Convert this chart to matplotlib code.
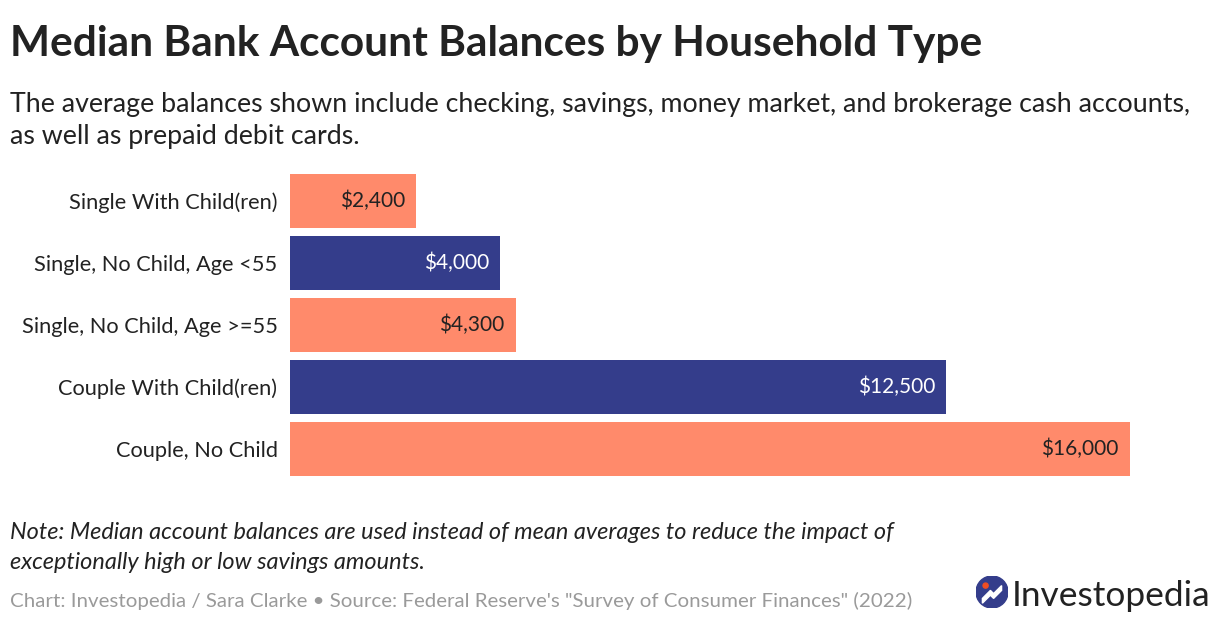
import numpy as np
import matplotlib
matplotlib.use("Agg")
import matplotlib.pyplot as plt
from matplotlib.patches import Circle, Polygon

# data
categories = ["Single With Child(ren)", "Single, No Child, Age <55",
              "Single, No Child, Age >=55", "Couple With Child(ren)",
              "Couple, No Child"]
balances = [2400, 4000, 4300, 12500, 16000]
value_labels = ["$2,400", "$4,000", "$4,300", "$12,500", "$16,000"]

SALMON = "#FF8A6B"
NAVY = "#343D8B"
DARK = "#222222"
GREY = "#9A9A9A"
colors = [SALMON, NAVY, SALMON, NAVY, SALMON]
label_colors = [DARK, "white", DARK, "white", DARK]

plt.rcParams['font.family'] = ['Lato', 'DejaVu Sans']

W, H = 1220, 624
fig = plt.figure(figsize=(W / 100, H / 100), dpi=100)


def px(x, y):
    # pixel coords (top-left origin) -> figure fraction
    return x / W, 1 - y / H


def fit_text(x, y, s, width, size, **kw):
    # place text then shrink/grow it so it spans `width` pixels
    t = fig.text(*px(x, y), s, fontsize=size, **kw)
    r = fig.canvas.get_renderer()
    w = t.get_window_extent(r).width
    t.set_fontsize(size * width / w)
    return t


fit_text(10, 56, "Median Bank Account Balances by Household Type", 970, 28,
         fontweight="bold", color=DARK, va="baseline")
sub = fit_text(10, 112, "The average balances shown include checking, savings, money market, "
               "and brokerage cash accounts,", 1177, 18, color=DARK, va="baseline")
fig.text(*px(10, 144), "as well as prepaid debit cards.", fontsize=sub.get_fontsize(),
         color=DARK, va="baseline")

# bars
ax = fig.add_axes([290 / W, 1 - 476 / H, 840 / W, 302 / H])
y = np.arange(len(categories))
ax.barh(y, balances, height=0.87, color=colors)
ax.set_xlim(0, 16000)
ax.set_ylim(len(categories) - 0.565, -0.435)
ax.set_yticks(y)
ax.set_yticklabels(categories, fontsize=15.7, color=DARK)
ax.tick_params(axis="y", length=0, pad=9)
ax.set_xticks([])
for s in ax.spines.values():
    s.set_visible(False)
for i, v in enumerate(balances):
    ax.annotate(value_labels[i], (v, i), xytext=(-8, 0), textcoords="offset points",
                ha="right", va="center", fontsize=15, color=label_colors[i])

# notes
note = fit_text(10, 539, "Note: Median account balances are used instead of mean averages "
                "to reduce the impact of", 883, 15, style="italic", color=DARK,
                va="baseline")
fig.text(*px(10, 569), "exceptionally high or low savings amounts.",
         fontsize=note.get_fontsize(), style="italic", color=DARK, va="baseline")
fit_text(10, 607, "Chart: Investopedia / Sara Clarke \u2022 Source: Federal Reserve's "
         "\"Survey of Consumer Finances\" (2022)", 906, 12.5, color=GREY, va="baseline")

# logo
lax = fig.add_axes([976 / W, 1 - 608 / H, 32 / W, 32 / H])
lax.set_xlim(0, 1)
lax.set_ylim(0, 1)
lax.set_aspect("equal")
lax.axis("off")
lax.add_patch(Circle((0.5, 0.5), 0.5, color=NAVY))
lax.add_patch(Polygon([[0.2, 0.3], [0.45, 0.55], [0.55, 0.45], [0.8, 0.7],
                       [0.8, 0.55], [0.55, 0.3], [0.45, 0.4], [0.2, 0.15]],
                      closed=True, color="white"))
lax.add_patch(Circle((0.3, 0.7), 0.08, color="#F04E23"))
fit_text(1012, 606, "Investopedia", 198, 22, color=DARK, va="baseline")

fig.savefig("out.png", dpi=100)
